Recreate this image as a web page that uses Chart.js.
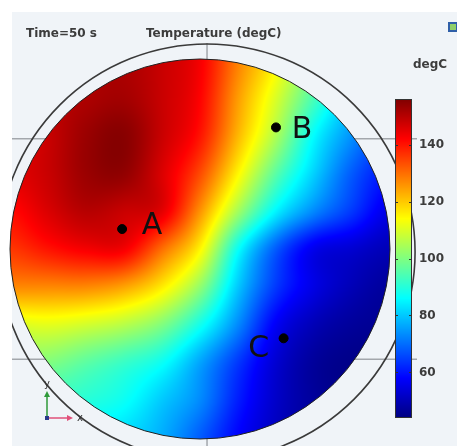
<!DOCTYPE html>
<html>
<head>
<meta charset="utf-8">
<script src="https://cdn.jsdelivr.net/npm/chart.js@4.4.0/dist/chart.umd.min.js"></script>
<style>
  body { margin: 0; background: #fff; }
  canvas { display: block; }
</style>
</head>
<body>
<canvas id="tempChart" width="457" height="446"></canvas>
<script>
// sampled temperature field (degC), rows top -> bottom, plate radius = 1
const gridX = [-1, -0.8, -0.6, -0.4, -0.2, 0, 0.2, 0.4, 0.6, 0.8, 1];
const gridY = [1, 0.8, 0.6, 0.4, 0.2, 0, -0.2, -0.4, -0.6, -0.8, -1];
const tempRows = [
    [146, 149, 151, 151, 148, 143, 128, 115, 99, 83, 72],
    [146, 149, 151, 152, 148, 142, 125, 110, 94, 79, 68],
    [144, 148, 153, 155, 148, 140, 122, 105, 86, 74, 65],
    [145, 148, 153, 154, 146, 134, 115, 96, 81, 68, 60],
    [141, 146, 150, 148, 145, 126, 104, 85, 73, 64, 55],
    [136, 140, 143, 143, 130, 115, 87, 68, 56, 53, 50],
    [127, 127, 127, 124, 116, 102, 80, 64, 55, 50, 47],
    [110, 111, 109, 106, 100, 88, 73, 57, 50, 47, 46],
    [101, 100, 96, 92, 87, 76, 64, 53, 47, 45, 45],
    [94, 92, 90, 87, 80, 73, 61, 52, 47, 45, 45],
    [88, 86, 84, 82, 77, 68, 58, 51, 47, 45, 45]
];

// probe points
const probeNames = ['A', 'B', 'C'];
const probeX = [-0.41, 0.40, 0.44];
const probeY = [0.105, 0.64, -0.47];

// colour range and colorbar ticks
const tempMin = 44;
const tempMax = 156;
const tempTicks = [60, 80, 100, 120, 140];

// background grid lines and outer boundary (plate units)
const gridLinesY = [0.58, -0.58];
const gridLinesX = [0.037];
const outerCircle = { x: 0.037, y: -0.016, r: 1.095 };

const labelOffsets = { A: [30, -3], B: [26, 3], C: [-25, 11] };

function jet(t) {
    t = Math.min(Math.max(t, 0), 1);
    const f = v => Math.round(255 * Math.min(Math.max(v, 0), 1));
    return [f(1.5 - Math.abs(4 * t - 3)), f(1.5 - Math.abs(4 * t - 2)), f(1.5 - Math.abs(4 * t - 1))];
}

function cr(p0, p1, p2, p3, t) {
    return p1 + 0.5 * t * (p2 - p0 + t * (2 * p0 - 5 * p1 + 4 * p2 - p3 + t * (3 * (p1 - p2) + p3 - p0)));
}

// smooth shading between the sampled values
function sampleTemp(X, Y) {
    const n = gridX.length;
    const step = gridX[1] - gridX[0];
    let fx = (X - gridX[0]) / step;
    let fy = (gridY[0] - Y) / step;
    fx = Math.min(Math.max(fx, 0), n - 1.0001);
    fy = Math.min(Math.max(fy, 0), n - 1.0001);
    const i = Math.floor(fx), j = Math.floor(fy);
    const tx = fx - i, ty = fy - j;
    const c = k => Math.min(Math.max(k, 0), n - 1);
    const rows = [];
    for (let m = -1; m <= 2; m++) {
        const r = tempRows[c(j + m)];
        rows.push(cr(r[c(i - 1)], r[c(i)], r[c(i + 1)], r[c(i + 2)], tx));
    }
    return cr(rows[0], rows[1], rows[2], rows[3], ty);
}

const fieldPlugin = {
    id: 'fieldPlugin',
    beforeDraw(chart) {
        const ctx = chart.ctx;
        const xs = chart.scales.x, ys = chart.scales.y, ts = chart.scales.temp;

        // background
        ctx.save();
        ctx.fillStyle = '#ffffff';
        ctx.fillRect(0, 0, chart.width, chart.height);
        ctx.fillStyle = '#f0f4f8';
        ctx.fillRect(12, 12, chart.width - 12, chart.height - 12);

        // grid lines and outer boundary, kept inside the graphics window
        ctx.save();
        ctx.beginPath();
        ctx.rect(12, 12, chart.width - 12, chart.height - 12);
        ctx.clip();
        ctx.strokeStyle = '#a3a7ac';
        ctx.lineWidth = 1.5;
        gridLinesY.forEach(v => {
            const py = ys.getPixelForValue(v);
            ctx.beginPath();
            ctx.moveTo(12, py);
            ctx.lineTo(417, py);
            ctx.stroke();
        });
        gridLinesX.forEach(v => {
            const px = xs.getPixelForValue(v);
            ctx.beginPath();
            ctx.moveTo(px, 43);
            ctx.lineTo(px, chart.height);
            ctx.stroke();
        });
        const ocx = xs.getPixelForValue(outerCircle.x);
        const ocy = ys.getPixelForValue(outerCircle.y);
        const ocr = xs.getPixelForValue(outerCircle.x + outerCircle.r) - ocx;
        ctx.strokeStyle = '#3a3a3a';
        ctx.lineWidth = 1.6;
        ctx.beginPath();
        ctx.arc(ocx, ocy, ocr, 0, Math.PI * 2);
        ctx.stroke();
        ctx.restore();

        // temperature field on the plate
        const x0 = Math.floor(xs.getPixelForValue(-1)), x1 = Math.ceil(xs.getPixelForValue(1));
        const y0 = Math.floor(ys.getPixelForValue(1)), y1 = Math.ceil(ys.getPixelForValue(-1));
        const w = x1 - x0 + 1, h = y1 - y0 + 1;
        const off = document.createElement('canvas');
        off.width = w;
        off.height = h;
        const octx = off.getContext('2d');
        const img = octx.createImageData(w, h);
        for (let j = 0; j < h; j++) {
            const Y = ys.getValueForPixel(y0 + j + 0.5);
            for (let i = 0; i < w; i++) {
                const X = xs.getValueForPixel(x0 + i + 0.5);
                const T = sampleTemp(X, Y);
                const col = jet((T - tempMin) / (tempMax - tempMin));
                const k = (j * w + i) * 4;
                img.data[k] = col[0];
                img.data[k + 1] = col[1];
                img.data[k + 2] = col[2];
                img.data[k + 3] = 255;
            }
        }
        octx.putImageData(img, 0, 0);
        const cx = xs.getPixelForValue(0), cy = ys.getPixelForValue(0);
        const r = xs.getPixelForValue(1) - cx;
        ctx.save();
        ctx.beginPath();
        ctx.arc(cx, cy, r, 0, Math.PI * 2);
        ctx.clip();
        ctx.drawImage(off, x0, y0);
        ctx.restore();
        ctx.strokeStyle = '#222';
        ctx.lineWidth = 1;
        ctx.beginPath();
        ctx.arc(cx, cy, r, 0, Math.PI * 2);
        ctx.stroke();

        // colorbar
        const bl = 395, br = chart.chartArea.right;
        const bt = Math.round(ts.getPixelForValue(tempMax)), bb = Math.round(ts.getPixelForValue(tempMin));
        for (let py = bt; py < bb; py++) {
            const col = jet((ts.getValueForPixel(py + 0.5) - tempMin) / (tempMax - tempMin));
            ctx.fillStyle = 'rgb(' + col.join(',') + ')';
            ctx.fillRect(bl, py, br - bl, 1);
        }
        ctx.strokeStyle = '#333';
        ctx.lineWidth = 1;
        ctx.strokeRect(bl + 0.5, bt + 0.5, br - bl - 1, bb - bt - 1);
        tempTicks.forEach(v => {
            const py = Math.round(ts.getPixelForValue(v)) + 0.5;
            ctx.beginPath();
            ctx.moveTo(bl, py); ctx.lineTo(bl + 3, py);
            ctx.moveTo(br - 3, py); ctx.lineTo(br, py);
            ctx.stroke();
        });

        // headings
        ctx.fillStyle = '#3c3c3c';
        ctx.font = 'bold 12px "DejaVu Sans"';
        ctx.textBaseline = 'middle';
        ctx.textAlign = 'left';
        ctx.fillText('Time=50 s', 26, 34);
        ctx.fillText('Temperature (degC)', 146, 34);
        ctx.fillText('degC', 413, 65);

        // small toolbar icon
        ctx.fillStyle = '#2f5fa8';
        ctx.fillRect(448, 22, 9, 10);
        ctx.fillStyle = '#8fcf6a';
        ctx.fillRect(450, 24, 6, 6);

        // coordinate triad
        ctx.lineWidth = 1.5;
        ctx.strokeStyle = '#2f9a3a';
        ctx.beginPath(); ctx.moveTo(47, 418); ctx.lineTo(47, 396); ctx.stroke();
        ctx.fillStyle = '#2f9a3a';
        ctx.beginPath(); ctx.moveTo(44, 397); ctx.lineTo(50, 397); ctx.lineTo(47, 391); ctx.fill();
        ctx.strokeStyle = '#e0507a';
        ctx.beginPath(); ctx.moveTo(47, 418); ctx.lineTo(68, 418); ctx.stroke();
        ctx.fillStyle = '#e0507a';
        ctx.beginPath(); ctx.moveTo(67, 415); ctx.lineTo(67, 421); ctx.lineTo(73, 418); ctx.fill();
        ctx.fillStyle = '#2a3a8a';
        ctx.fillRect(45, 416, 4, 4);
        ctx.fillStyle = '#333';
        ctx.font = '10px "DejaVu Sans"';
        ctx.textAlign = 'center';
        ctx.fillText('y', 47, 384);
        ctx.fillText('x', 80, 418);
        ctx.restore();
    },
    afterDatasetsDraw(chart) {
        const ctx = chart.ctx;
        const meta = chart.getDatasetMeta(0);
        ctx.save();
        ctx.fillStyle = '#111';
        ctx.font = '30px "DejaVu Sans"';
        ctx.textAlign = 'center';
        ctx.textBaseline = 'middle';
        meta.data.forEach((pt, i) => {
            const name = probeNames[i];
            const o = labelOffsets[name];
            ctx.fillText(name, pt.x + o[0], pt.y + o[1]);
        });
        ctx.restore();
    }
};

new Chart(document.getElementById('tempChart'), {
    type: 'scatter',
    data: {
        datasets: [{
            label: 'Probes',
            data: probeX.map((x, i) => ({ x: x, y: probeY[i] })),
            backgroundColor: '#000',
            borderColor: '#000',
            pointRadius: 4.5,
            clip: false
        }]
    },
    options: {
        responsive: false,
        devicePixelRatio: 1,
        animation: false,
        layout: { padding: { left: 10, top: 99, right: 0, bottom: 28 } },
        plugins: { legend: { display: false }, tooltip: { enabled: false } },
        scales: {
            x: { type: 'linear', min: -1, max: 1.1158, display: false },
            y: { type: 'linear', min: -0.8895, max: 0.7895, display: false },
            temp: {
                type: 'linear',
                axis: 'y',
                position: 'right',
                min: tempMin,
                max: tempMax,
                afterBuildTicks: scale => { scale.ticks = tempTicks.map(v => ({ value: v })); },
                afterFit: scale => { scale.width = 45; },
                grid: { display: false, drawTicks: false },
                border: { display: false },
                ticks: {
                    padding: 7,
                    color: '#3c3c3c',
                    font: { family: 'DejaVu Sans', size: 12, weight: 'bold' }
                }
            }
        }
    },
    plugins: [fieldPlugin]
});
</script>
</body>
</html>
